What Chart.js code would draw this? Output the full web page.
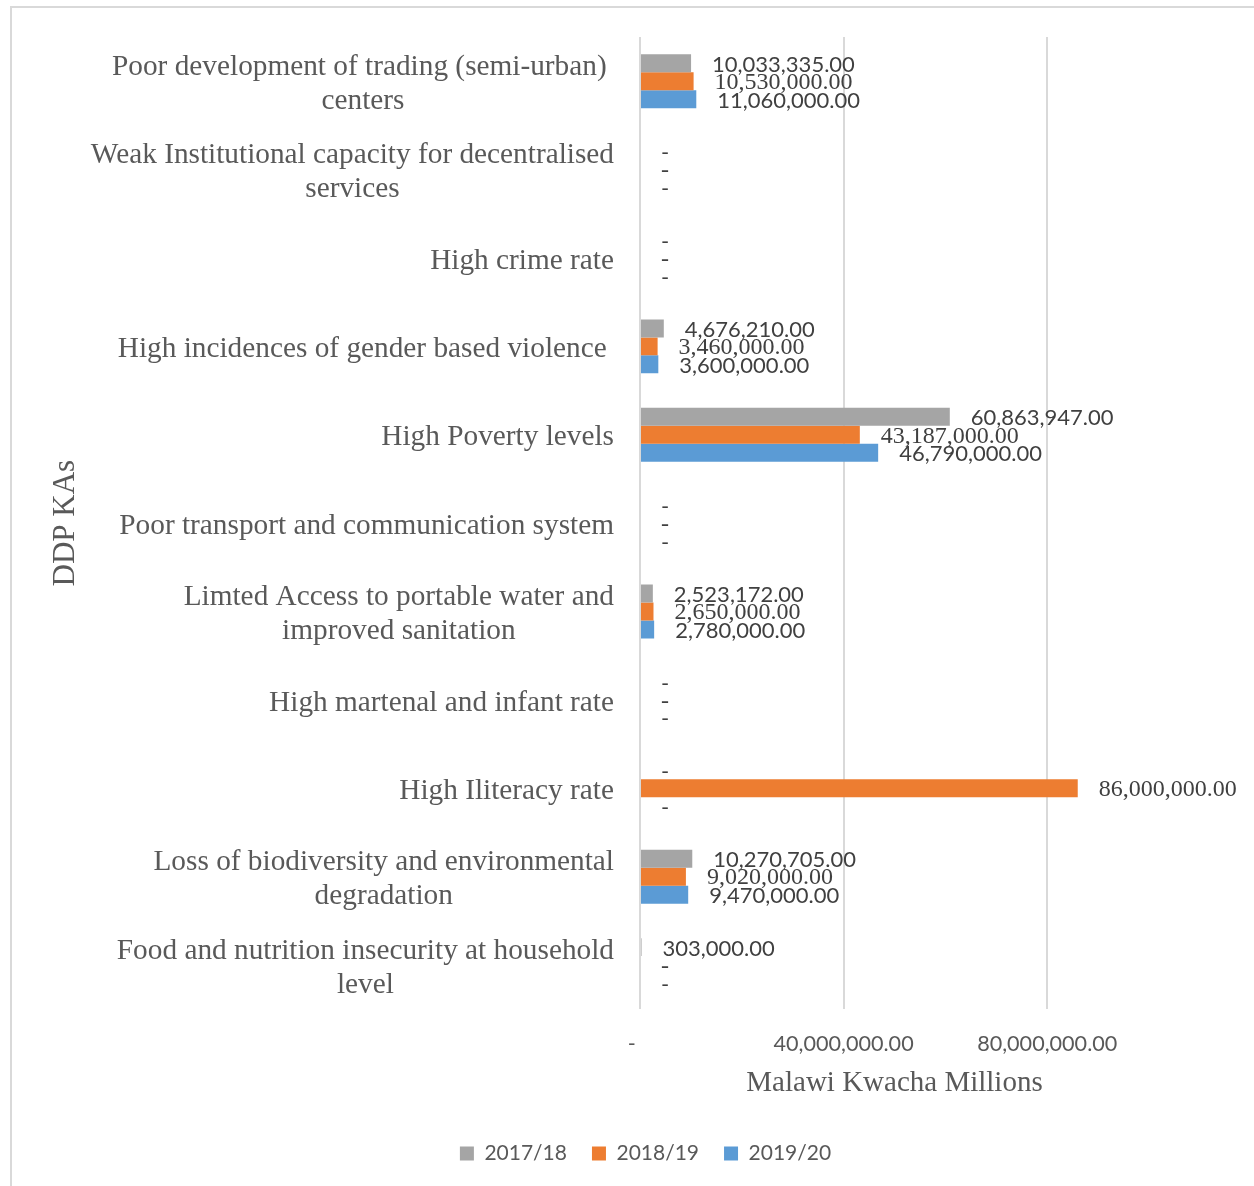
<!DOCTYPE html>
<html><head><meta charset="utf-8">
<script src="https://cdn.jsdelivr.net/npm/chart.js@4.4.0/dist/chart.umd.min.js"></script>
<style>html,body{margin:0;padding:0;background:#fff;overflow:hidden}</style>
</head><body>
<canvas id="c" width="1254" height="1186"></canvas>
<script>
const categories = [
  ["Poor development of trading (semi-urban) ", "centers"],
  ["Weak Institutional capacity for decentralised", "services"],
  ["High crime rate"],
  ["High incidences of gender based violence "],
  ["High Poverty levels"],
  ["Poor transport and communication system"],
  ["Limted Access to portable water and", "improved sanitation"],
  ["High martenal and infant rate"],
  ["High Iliteracy rate"],
  ["Loss of biodiversity and environmental", "degradation"],
  ["Food and nutrition insecurity at household", "level"]
];
const seriesNames = ["2017/18", "2018/19", "2019/20"];
const values2017 = [10033335, 0, 0, 4676210, 60863947, 0, 2523172, 0, 0, 10270705, 303000];
const values2018 = [10530000, 0, 0, 3460000, 43187000, 0, 2650000, 0, 86000000, 9020000, 0];
const values2019 = [11060000, 0, 0, 3600000, 46790000, 0, 2780000, 0, 0, 9470000, 0];
const xTickValues = [0, 40000000, 80000000];
const xMax = 100000000;
const xTitle = "Malawi Kwacha Millions";
const yTitle = "DDP KAs";

const colors = ["#A5A5A5", "#ED7D31", "#5B9BD5"];
const SANS = "Lato, 'Open Sans', sans-serif";
const SERIF = "'Liberation Serif', 'Times New Roman', serif";

function fmt(v) {
  return v.toLocaleString('en-US', {minimumFractionDigits: 2, maximumFractionDigits: 2});
}

const borderPlugin = {
  id: 'outerBorder',
  beforeDraw(chart) {
    const ctx = chart.ctx;
    ctx.save();
    ctx.strokeStyle = '#d9d9d9';
    ctx.lineWidth = 2;
    ctx.beginPath();
    ctx.moveTo(11, 2000);
    ctx.lineTo(11, 7);
    ctx.lineTo(2000, 7);
    ctx.stroke();
    ctx.restore();
    // centre the legend on the page like the reference
    const lg = chart.legend;
    if (lg) {
      const right = chart.chartArea.right;
      lg.left = 142;
      lg.right = right;
      lg.width = right - 142;
    }
  }
};

const catLabelPlugin = {
  id: 'catLabels',
  afterDraw(chart) {
    const ctx = chart.ctx;
    const yScale = chart.scales.y;
    const right = chart.chartArea.left - 26;
    const lh = 34;
    ctx.save();
    ctx.font = "29.3px " + SERIF;
    ctx.fillStyle = '#595959';
    ctx.textAlign = 'center';
    ctx.textBaseline = 'middle';
    chart.data.labels.forEach((lines, i) => {
      const yc = yScale.getPixelForValue(i) + 3;
      const w = Math.max(...lines.map(l => ctx.measureText(l).width));
      const cx = right - w / 2;
      const y0 = yc - (lines.length - 1) * lh / 2;
      lines.forEach((l, j) => ctx.fillText(l, cx, y0 + j * lh));
    });
    ctx.restore();
  }
};

const dataLabelPlugin = {
  id: 'dataLabels',
  afterDatasetsDraw(chart) {
    const ctx = chart.ctx;
    ctx.save();
    ctx.fillStyle = '#404040';
    ctx.textAlign = 'left';
    ctx.textBaseline = 'middle';
    chart.data.datasets.forEach((ds, di) => {
      const meta = chart.getDatasetMeta(di);
      ctx.font = di === 1 ? ("24px " + SERIF) : ("22px " + SANS);
      meta.data.forEach((el, i) => {
        const v = ds.data[i];
        const txt = v === 0 ? '-' : fmt(v);
        ctx.fillText(txt, el.x + 21, el.y + 1.5);
      });
    });
    ctx.restore();
  }
};

new Chart(document.getElementById('c'), {
  type: 'bar',
  data: {
    labels: categories,
    datasets: [
      {label: seriesNames[0], data: values2017, backgroundColor: colors[0]},
      {label: seriesNames[1], data: values2018, backgroundColor: colors[1]},
      {label: seriesNames[2], data: values2019, backgroundColor: colors[2]}
    ]
  },
  options: {
    indexAxis: 'y',
    responsive: false,
    animation: false,
    events: [],
    categoryPercentage: 0.61,
    barPercentage: 1.0,
    layout: {padding: {top: 37, right: 105, bottom: 12, left: 0}},
    plugins: {
      legend: {
        position: 'bottom',
        labels: {
          font: {family: SANS, size: 21},
          color: '#595959',
          boxWidth: 14,
          boxHeight: 14,
          padding: 25
        }
      },
      tooltip: {enabled: false}
    },
    scales: {
      x: {
        min: 0,
        max: xMax,
        afterBuildTicks(scale) {
          scale.ticks = xTickValues.map(v => ({value: v}));
        },
        grid: {color: '#d9d9d9', lineWidth: 2, drawTicks: false},
        border: {display: false},
        ticks: {
          font: {family: SANS, size: 21.6},
          color: '#595959',
          padding: 22,
          callback: v => v === 0 ? '-   ' : fmt(v)
        },
        title: {
          display: true,
          text: xTitle,
          font: {family: SERIF, size: 29},
          color: '#595959',
          padding: {top: -13, bottom: 17}
        }
      },
      y: {
        grid: {display: false},
        border: {display: false},
        ticks: {display: false},
        title: {
          display: true,
          text: yTitle,
          font: {family: SERIF, size: 31},
          color: '#595959',
          padding: {top: 47, bottom: 0}
        },
        afterFit(scale) { scale.width = 640; }
      }
    }
  },
  plugins: [borderPlugin, catLabelPlugin, dataLabelPlugin]
});
</script>
</body></html>
